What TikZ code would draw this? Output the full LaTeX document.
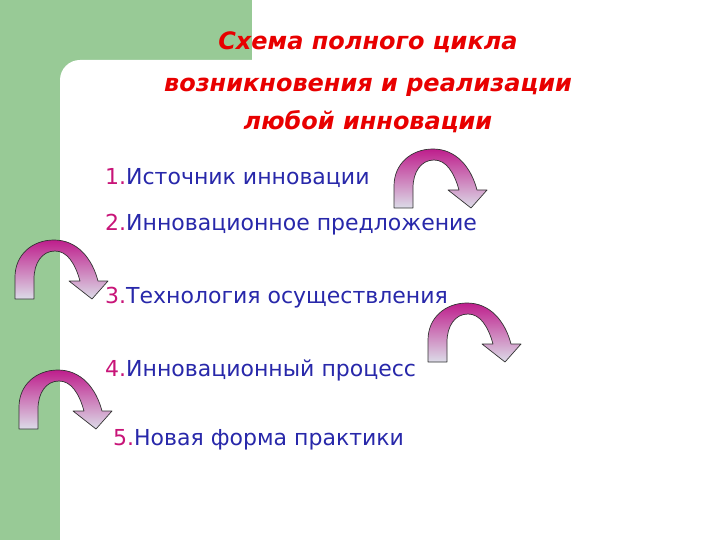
\documentclass[tikz,border=0pt]{standalone}
\usepackage{fontspec}
\setmainfont{DejaVu Sans}
\usetikzlibrary{shadings}
\definecolor{bggreen}{RGB}{152,202,150}
\definecolor{titlered}{RGB}{232,0,0}
\definecolor{numcol}{RGB}{200,20,120}
\definecolor{txtcol}{RGB}{40,40,170}
\definecolor{arrtop}{RGB}{190,30,140}
\definecolor{arrbot}{RGB}{220,220,232}
\tikzset{
  titletext/.style={font=\fontsize{24}{28}\selectfont\bfseries\itshape, text=titlered, inner sep=0pt, anchor=base},
  itemtext/.style={font=\fontsize{22}{26}\selectfont, text=txtcol, inner sep=0pt, anchor=base west},
  arrowshape/.style={top color=arrtop, bottom color=arrbot, draw=black!80, line width=0.7pt, line join=round}
}
\newcommand{\bentarrow}[1]{%
  \begin{scope}[shift={#1}]
    \shade[arrowshape] (0,0) -- (0,-22)
      .. controls (0,-44) and (17,-59) .. (39,-59)
      .. controls (62,-59) and (77,-41) .. (83,-18)
      -- (93,-18) -- (77,0) -- (54,-18) -- (65,-18)
      .. controls (60,-36) and (52,-48) .. (40,-48)
      .. controls (27,-48) and (19,-36) .. (19,-20)
      -- (19,0) -- cycle;
  \end{scope}}
\begin{document}
\begin{tikzpicture}[x=1pt,y=-1pt]
\useasboundingbox (0,0) rectangle (720,540);
\fill[white] (0,0) rectangle (720,540);
\fill[bggreen] (0,0) rectangle (252,60);
\fill[bggreen] (0,0) rectangle (60,540);
\fill[bggreen] (60,60) rectangle (90,90);
\fill[white] (60,540) [rounded corners=20pt] -- (60,60) [sharp corners] -- (260,60) -- (260,540) -- cycle;
% title
\node[titletext] (t1) at (368,50) {Схема полного цикла};
\node[titletext] (t2) at (368,92) {возникновения и реализации};
\node[titletext] (t3) at (368,130) {любой инновации};
% items
\node[itemtext] (i1) at (105,185) {\textcolor{numcol}{1.}Источник инновации};
\node[itemtext] (i2) at (105,230) {\textcolor{numcol}{2.}Инновационное предложение};
\node[itemtext] (i3) at (105,303) {\textcolor{numcol}{3.}Технология осуществления};
\node[itemtext] (i4) at (105,376) {\textcolor{numcol}{4.}Инновационный процесс};
\node[itemtext] (i5) at (113,445) {\textcolor{numcol}{5.}Новая форма практики};
% arrows
\bentarrow{(394,208)}
\bentarrow{(15,299)}
\bentarrow{(428,362)}
\bentarrow{(19,429)}
\end{tikzpicture}
\end{document}
